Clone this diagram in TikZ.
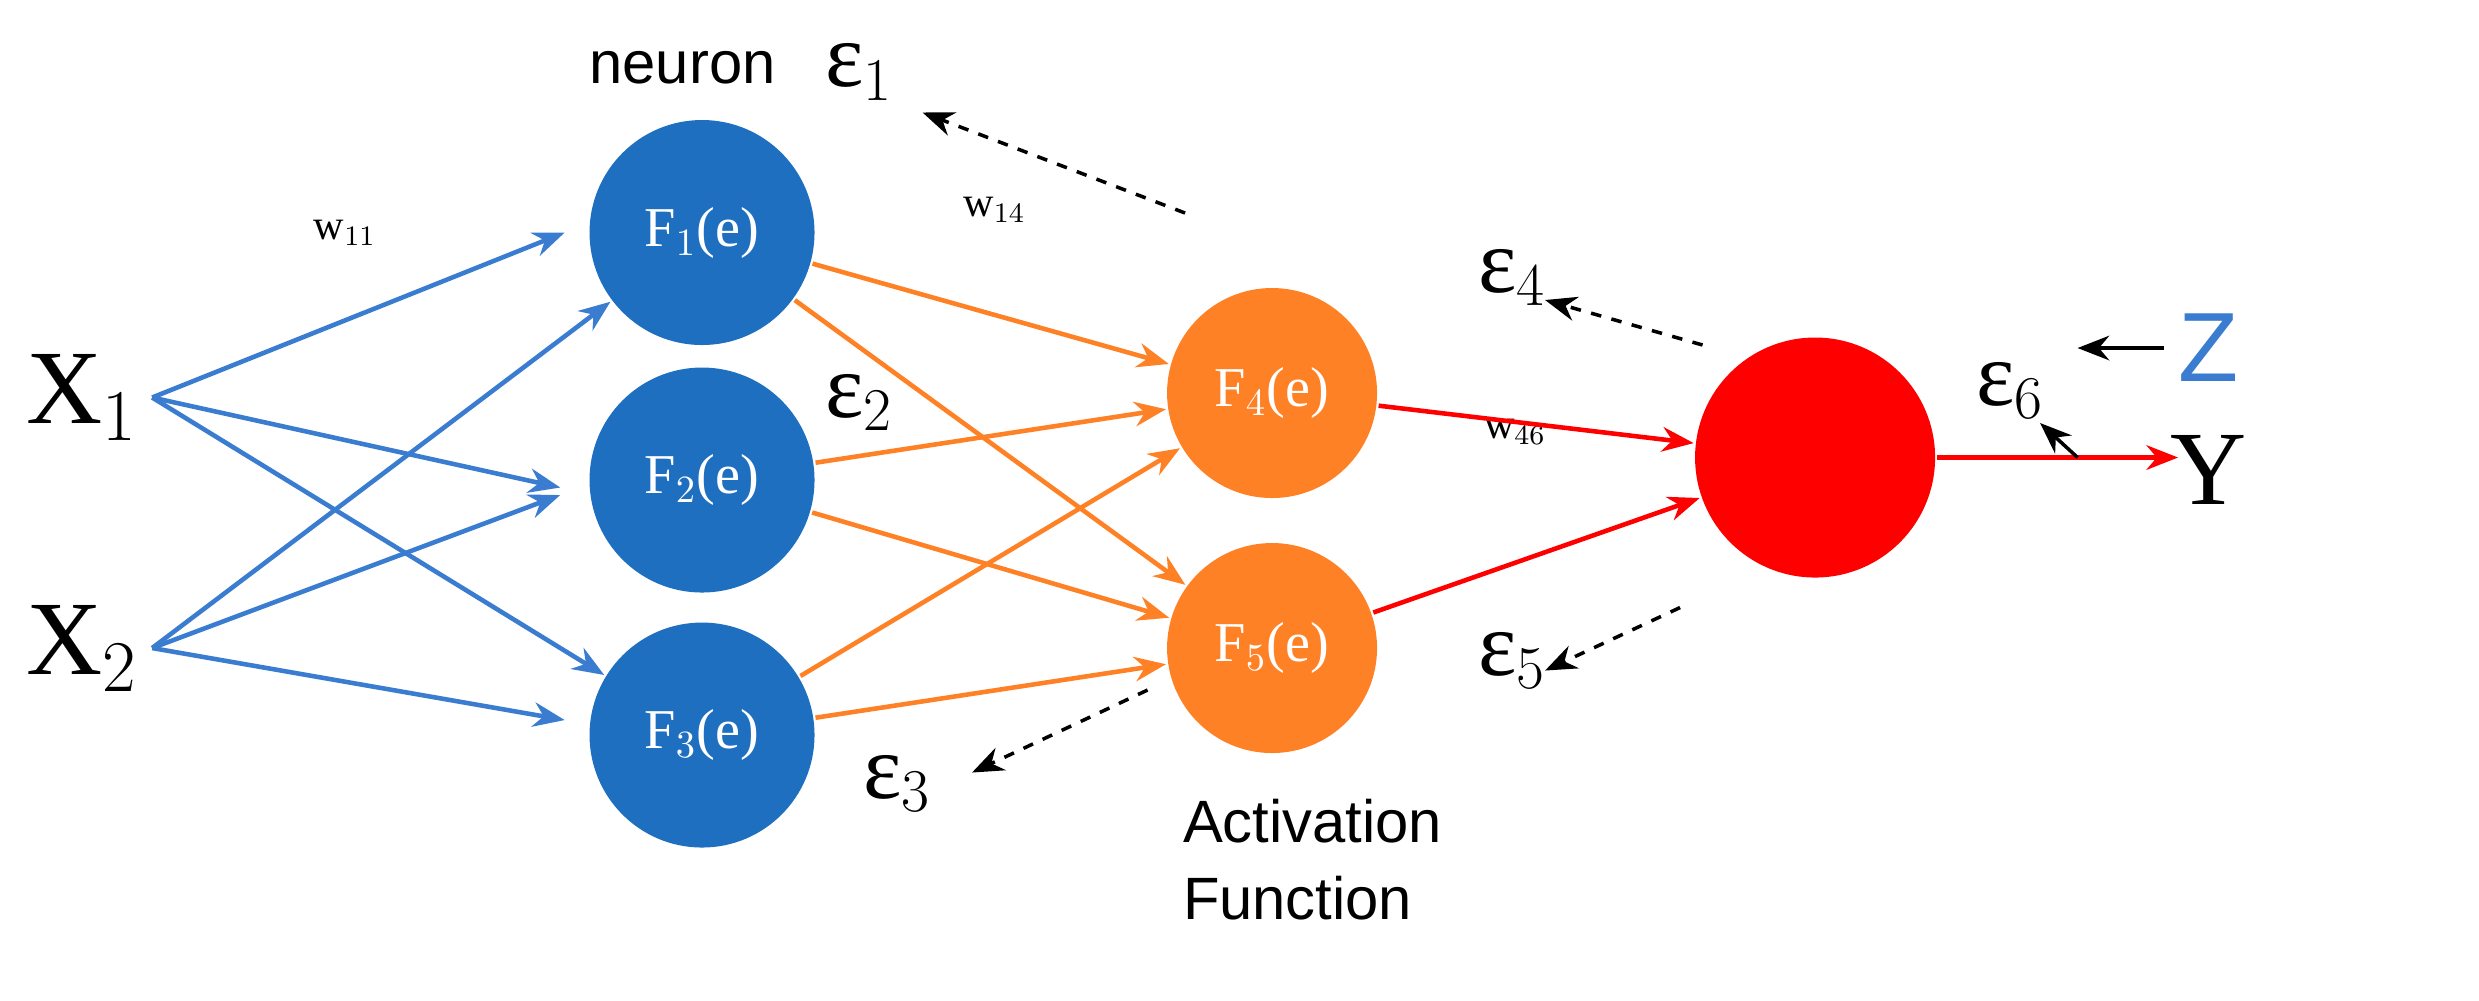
\documentclass[tikz,border=0pt]{standalone}
\usepackage{fontspec}
\setmainfont{Liberation Serif}
\newfontfamily\sansfont{Liberation Sans}
\usetikzlibrary{arrows,arrows.meta,calc}
\definecolor{nblue}{HTML}{1F6FC0}
\definecolor{ablue}{HTML}{3A7DD0}
\definecolor{norange}{HTML}{FF8126}
\definecolor{nred}{HTML}{FF0000}
\tikzset{
   neuron node/.style={circle,minimum size=2.25cm,inner sep=0pt,text=white,font=\fontsize{16}{18}\selectfont},
   blue node/.style={neuron node,fill=nblue},
   orange node/.style={neuron node,fill=norange,minimum size=2.1cm},
   red node/.style={neuron node,fill=nred,minimum size=2.4cm},
   err label/.style={font=\fontsize{26}{28}\selectfont},
   weight label/.style={font=\fontsize{12}{14}\selectfont}
}

\begin{document}
\begin{tikzpicture}[x=0.015cm,y=-0.015cm,>={Stealth[length=9pt,width=7pt]},line width=1.3pt]
\useasboundingbox (0,0) rectangle (1652.6,666.7);

\tikzstyle{every node}=[font=\small]

% inputs
\node[font=\fontsize{30}{32}\selectfont] (x1) at (55,265) {X$_1$};
\node[font=\fontsize{30}{32}\selectfont] (x2) at (55,432) {X$_2$};

% layers
\node[blue node] (f1) at (468,155) {F$_1$(e)};
\node[blue node] (f2) at (468,320) {F$_2$(e)};
\node[blue node] (f3) at (468,490) {F$_3$(e)};
\node[orange node] (f4) at (848,262) {F$_4$(e)};
\node[orange node] (f5) at (848,432) {F$_5$(e)};
\node[red node] (f6) at (1210,305) {};

% labels
\node[font=\sansfont\fontsize{17}{19}\selectfont] (neu) at (455,45) {neuron};
\node[err label] (e1) at (573,48) {ε$_1$};
\node[err label] (e2) at (573,268) {ε$_2$};
\node[err label] (e3) at (598,522) {ε$_3$};
\node[err label] (e4) at (1008,185) {ε$_4$};
\node[err label] (e5) at (1008,440) {ε$_5$};
\node[err label] (e6) at (1340,260) {ε$_6$};
\node[weight label] (w11) at (230,155) {w$_{11}$};
\node[weight label] (w14) at (663,140) {w$_{14}$};
\node[weight label] (w46) at (1010,288) {w$_{46}$};
\node[font=\sansfont\fontsize{17}{22}\selectfont,align=left] (act) at (875,573) {Activation\\Function};
\node[font=\sansfont\fontsize{28}{30}\selectfont,text=ablue] (z) at (1472,232) {Z};
\node[font=\fontsize{30}{32}\selectfont] (y) at (1472,313) {Y};

% input connections
\path[->,ablue]
  (x1.east) edge ($(f1.west)+(-15,0)$)
  (x1.east) edge ($(f2.west)+(-18,5)$)
  (x1.east) edge (f3)
  (x2.east) edge (f1)
  (x2.east) edge ($(f2.west)+(-18,10)$)
  (x2.east) edge ($(f3.west)+(-15,-10)$)
  ;

% hidden connections
\path[->,norange]
  (f1) edge (f4) (f1) edge (f5)
  (f2) edge (f4) (f2) edge (f5)
  (f3) edge (f4) (f3) edge (f5)
  ;

% output
\path[->,nred]
  (f4) edge (f6) (f5) edge (f6);
\coordinate (out) at (1452,305);
\coordinate (kink) at (1385,305);
\draw[->,nred] (f6.east) -- (out);
\draw[->,black,line width=1pt] (kink) -- (1360,282);
\draw[->,black,line width=1pt] (z.west) -- (1385,232);

% backpropagated errors
\draw[->,dashed,line width=1pt] (790,142) -- (615,75);
\draw[->,dashed,line width=1pt] (1135,230) -- (1030,200);
\draw[->,dashed,line width=1pt] (1120,405) -- (1030,447);
\draw[->,dashed,line width=1pt] (765,460) -- (648,515);
\end{tikzpicture}
\end{document}
